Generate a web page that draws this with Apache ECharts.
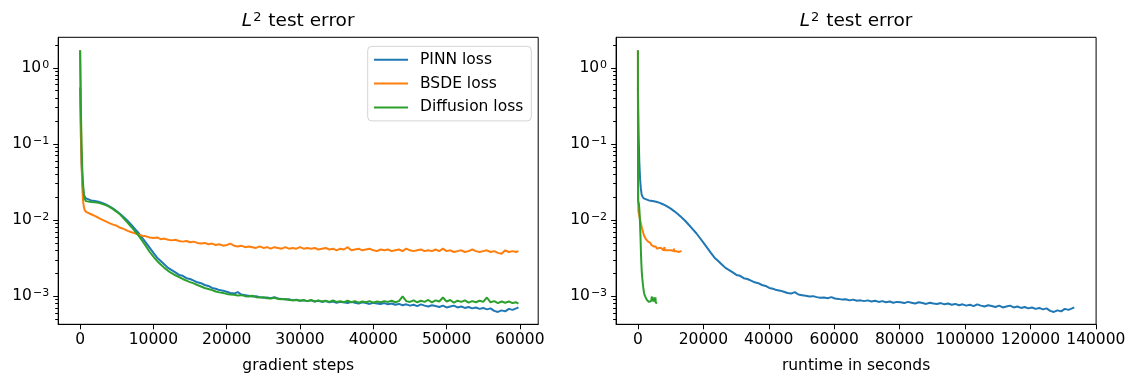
<!DOCTYPE html>
<html><head><meta charset="utf-8">
<script src="https://cdn.jsdelivr.net/npm/echarts@6/dist/echarts.min.js"></script>
<style>html,body{margin:0;padding:0;background:#fff}#c{width:1128px;height:376px}</style>
</head><body><div id="c"></div><script>
// gradient steps at which the test error was logged
const steps = [0,100,200,300,400,500,600,800,1000,
1500,2000,2500,3000,3500,4000,4500,5000,5500,6000,6500,7000,7500,8000,8500,9000,9500,
10000,10500,11000,11500,12000,12500,13000,13500,14000,14500,15000,15500,16000,16500,17000,17500,18000,18500,19000,19500,
20000,20500,21000,21500,22000,22500,23000,23500,24000,24500,25000,25500,26000,26500,27000,27500,28000,28500,29000,29500,
30000,30500,31000,31500,32000,32500,33000,33500,34000,34500,35000,35500,36000,36500,37000,37500,38000,38500,39000,39500,
40000,40500,41000,41500,42000,42500,43000,43500,44000,44500,45000,45500,46000,46500,47000,47500,48000,48500,49000,49500,
50000,50500,51000,51500,52000,52500,53000,53500,54000,54500,55000,55500,56000,56500,57000,57500,58000,58500,59000,59500,59800];

const pinnError = [0.55,0.13,0.055,0.034,0.026,0.022,0.0205,0.0192,0.0186,
0.0181,0.0178,0.0174,0.0168,0.0160,0.0151,0.0141,0.0130,0.0119,0.0108,0.0097,0.0086,0.0076,0.0067,0.0058,0.0050,0.0043,
0.0037,0.0032,0.0029,0.0026,0.00235,0.0022,0.00205,0.0019,0.00185,0.00172,0.00168,0.0016,0.00152,0.00148,0.0014,0.00136,0.00128,0.00125,0.0012,0.00118,
0.00114,0.0011,0.00108,0.00113,0.00105,0.00103,0.00101,0.00099,0.001,0.00097,0.00095,0.00096,0.00094,0.00097,0.00093,0.00092,0.0009,0.00091,0.00088,0.0009,
0.00087,0.00088,0.00086,0.00088,0.00085,0.00087,0.00084,0.00086,0.00083,0.00085,0.00082,0.00084,0.00083,0.00081,0.00084,0.00082,0.0008,0.00083,0.00081,0.00079,
0.00082,0.0008,0.00079,0.00081,0.00078,0.0008,0.00077,0.00079,0.00076,0.00078,0.00075,0.00077,0.00074,0.00078,0.00075,0.00073,0.00076,0.00074,0.00072,0.00075,
0.00071,0.00073,0.00075,0.00071,0.00073,0.0007,0.00072,0.00069,0.00071,0.00068,0.0007,0.00067,0.00069,0.00064,0.00062,0.00065,0.00063,0.00068,0.00066,0.00069,0.00071];

const bsdeError = [1.7,0.22,0.055,0.026,0.018,0.015,0.0137,0.0128,0.0124,
0.0119,0.0113,0.0107,0.0101,0.0096,0.0091,0.0087,0.0084,0.0079,0.0076,0.0072,0.0069,0.0067,0.0064,0.0062,0.0061,0.0059,
0.0058,0.0059,0.0056,0.0057,0.0055,0.0054,0.0055,0.0053,0.0052,0.0053,0.0051,0.0052,0.005,0.0049,0.005,0.0048,0.0049,0.0047,0.0048,0.0046,
0.0047,0.0049,0.0046,0.0045,0.0046,0.0044,0.0045,0.0044,0.0043,0.0045,0.0043,0.0044,0.0042,0.0044,0.0043,0.0042,0.0044,0.0042,0.0043,0.0042,
0.0044,0.0042,0.0043,0.0042,0.0043,0.0041,0.0042,0.0043,0.0041,0.0042,0.004,0.0042,0.0041,0.0044,0.004,0.0041,0.0042,0.004,0.0041,0.0042,
0.004,0.0039,0.0041,0.004,0.0041,0.0039,0.004,0.0041,0.0039,0.0042,0.004,0.0039,0.004,0.0041,0.0039,0.004,0.0039,0.0041,0.0039,0.0042,
0.0039,0.004,0.0038,0.0039,0.004,0.0038,0.0039,0.0041,0.0039,0.0038,0.0039,0.004,0.0038,0.0039,0.0037,0.0036,0.004,0.0038,0.0039,0.0038,0.0039];

const diffusionError = [1.7,0.32,0.095,0.046,0.03,0.022,0.019,0.0177,0.0173,
0.0172,0.0171,0.0168,0.0163,0.0157,0.0149,0.0139,0.0128,0.0117,0.0104,0.0092,0.0081,0.0071,0.0062,0.0053,0.0045,0.0038,
0.0033,0.0029,0.0026,0.00235,0.00215,0.002,0.00188,0.00178,0.00168,0.0016,0.00153,0.00147,0.0014,0.00134,0.00128,0.00124,0.0012,0.00115,0.00112,0.0011,
0.00107,0.00105,0.00104,0.00102,0.00103,0.001,0.00099,0.00101,0.00097,0.00096,0.00097,0.00094,0.00093,0.00095,0.00092,0.00091,0.00092,0.00089,0.00088,0.00089,
0.00087,0.00089,0.00086,0.00089,0.00085,0.00088,0.00085,0.00087,0.00084,0.00088,0.00084,0.00086,0.00083,0.00087,0.00083,0.00086,0.00082,0.00085,0.00083,0.00086,
0.00082,0.00085,0.00083,0.00086,0.00084,0.00087,0.00083,0.00086,0.00099,0.00086,0.00084,0.00088,0.00083,0.00087,0.00084,0.00089,0.00083,0.00088,0.00085,0.00096,
0.00085,0.00089,0.00082,0.00087,0.00084,0.00088,0.00082,0.00086,0.00083,0.00087,0.00084,0.00096,0.00083,0.00086,0.00081,0.00085,0.00082,0.00085,0.00081,0.00083,0.0008];

// total wall-clock runtime (seconds) of each run: PINN, BSDE, Diffusion
const runtimeTotalSec = [133400, 13300, 5800];
const seriesNames = ['PINN loss', 'BSDE loss', 'Diffusion loss'];
const seriesColors = ['#1f77b4', '#ff7f0e', '#2ca02c'];
const errorArrays = [pinnError, bsdeError, diffusionError];

const xTicksSteps = [0, 10000, 20000, 30000, 40000, 50000, 60000];
const xTicksRuntime = [0, 20000, 40000, 60000, 80000, 100000, 120000, 140000];
const yMajorTicks = [0.001, 0.01, 0.1, 1];
const yMinorTicks = [0.0005,0.0006,0.0007,0.0008,0.0009,
  0.002,0.003,0.004,0.005,0.006,0.007,0.008,0.009,
  0.02,0.03,0.04,0.05,0.06,0.07,0.08,0.09,
  0.2,0.3,0.4,0.5,0.6,0.7,0.8,0.9,2];

const FONT = 'DejaVu Sans';
const FS = 15.5;
function powLabel(v) {
  const e = Math.round(Math.log10(v));
  return '10{s|' + String(e).replace('-', '\u2212') + '}';
}

const yMin = Math.pow(10, -3.37), yMax = Math.pow(10, 0.40);
const gridTop = 37.3, gridH = 287, gridW = 480;
const grids = [
  { left: 58.2, top: gridTop, width: gridW, height: gridH, show: true, borderColor: '#000', borderWidth: 1, outerBoundsMode: 'none', containLabel: false },
  { left: 616.1, top: gridTop, width: gridW, height: gridH, show: true, borderColor: '#000', borderWidth: 1, outerBoundsMode: 'none', containLabel: false }
];

function xAxisCfg(gi, min, max, ticks, name) {
  return {
    type: 'value', gridIndex: gi, min: min, max: max,
    splitLine: { show: false },
    axisLine: { show: true, onZero: false, lineStyle: { color: '#000', width: 1 } },
    axisTick: { show: true, length: 5, lineStyle: { color: '#000', width: 1 }, customValues: ticks },
    axisLabel: { customValues: ticks, color: '#000', fontFamily: FONT, fontSize: FS, margin: 8,
      formatter: v => String(Math.round(v)) },
    name: name, nameLocation: 'middle', nameGap: 34,
    nameTextStyle: { color: '#000', fontFamily: FONT, fontSize: FS }
  };
}
function yAxisMajor(gi) {
  return {
    type: 'log', gridIndex: gi, min: yMin, max: yMax, logBase: 10, position: 'left',
    splitLine: { show: false },
    axisLine: { show: true, onZero: false, lineStyle: { color: '#000', width: 1 } },
    axisTick: { show: true, length: 5, lineStyle: { color: '#000', width: 1 }, customValues: yMajorTicks },
    axisLabel: { customValues: yMajorTicks, color: '#000', fontFamily: FONT, fontSize: FS, margin: 9,
      formatter: v => powLabel(v),
      rich: { s: { fontFamily: FONT, fontSize: 11, color: '#000', verticalAlign: 'top', padding: [0, 0, 0, 1] } } }
  };
}
function yAxisMinor(gi) {
  return {
    type: 'log', gridIndex: gi, min: yMin, max: yMax, logBase: 10, position: 'left', offset: 0,
    splitLine: { show: false },
    axisLine: { show: false, onZero: false },
    axisTick: { show: true, length: 3, lineStyle: { color: '#000', width: 1 }, customValues: yMinorTicks },
    axisLabel: { show: false }
  };
}

const series = [];
errorArrays.forEach((arr, k) => {
  series.push({
    name: seriesNames[k], type: 'line', xAxisIndex: 0, yAxisIndex: 0,
    data: steps.map((s, i) => [s, arr[i]]),
    showSymbol: false, symbol: 'none', animation: false,
    lineStyle: { color: seriesColors[k], width: 2 }, itemStyle: { color: seriesColors[k] }, z: 2 + k
  });
});
const lastStep = steps[steps.length - 1];
errorArrays.forEach((arr, k) => {
  series.push({
    name: seriesNames[k], type: 'line', xAxisIndex: 1, yAxisIndex: 2,
    data: steps.map((s, i) => [s / lastStep * runtimeTotalSec[k], arr[i]]),
    showSymbol: false, symbol: 'none', animation: false,
    lineStyle: { color: seriesColors[k], width: 2 }, itemStyle: { color: seriesColors[k] }, z: 2 + k
  });
});

const titleStyle = (x) => ({
  type: 'text', x: x, y: 21,
  style: {
    text: '{i|L}{s|2} test error', x: 0, y: 0,
    textAlign: 'center', textVerticalAlign: 'middle',
    fontFamily: FONT, fontSize: 18.5, fill: '#000',
    rich: {
      i: { fontStyle: 'italic', fontFamily: FONT, fontSize: 18.5, fill: '#000' },
      s: { fontFamily: FONT, fontSize: 13, fill: '#000', verticalAlign: 'top', padding: [0, 1, 0, 1] }
    }
  }
});

const chart = echarts.init(document.getElementById('c'), null, { renderer: 'canvas' });
chart.setOption({
  animation: false,
  backgroundColor: '#fff',
  grid: grids,
  xAxis: [
    xAxisCfg(0, -2990, 62500, xTicksSteps, 'gradient steps'),
    xAxisCfg(1, -6670, 140070, xTicksRuntime, 'runtime in seconds')
  ],
  yAxis: [yAxisMajor(0), yAxisMinor(0), yAxisMajor(1), yAxisMinor(1)],
  legend: {
    data: seriesNames, orient: 'vertical', left: 367.7, top: 46.3,
    selectedMode: false,
    itemWidth: 34, itemHeight: 14, itemGap: 7.8,
    padding: [5.5, 8, 5.5, 5.3],
    itemStyle: { opacity: 0 },
    lineStyle: { width: 2 },
    backgroundColor: '#fff', borderColor: '#d4d4d4', borderWidth: 1, borderRadius: 4,
    textStyle: { color: '#000', fontFamily: FONT, fontSize: FS, padding: [0, 0, 0, 7] }
  },
  graphic: [titleStyle(298.2), titleStyle(856.1)],
  series: series
});
</script></body></html>
